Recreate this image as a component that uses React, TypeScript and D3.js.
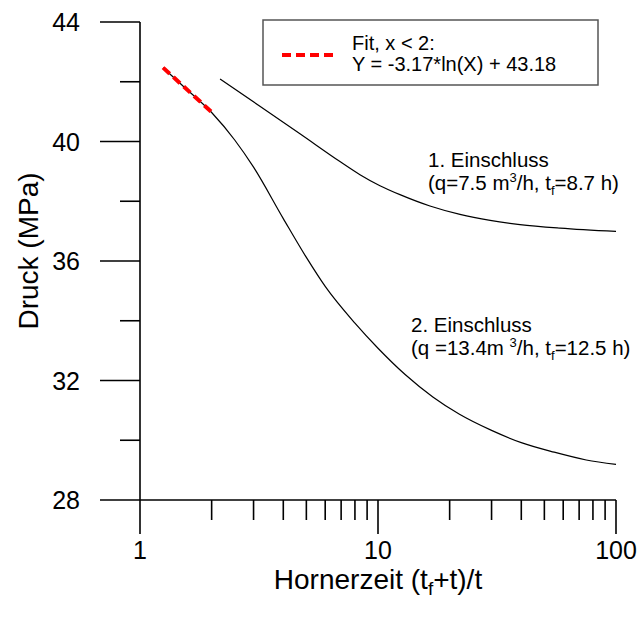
import React from "react";
import * as d3 from "d3";

const curve1X = [2.17, 3.19, 4.7, 6.92, 8.4, 10.19, 12.37, 16.53, 22.1, 29.6, 39.5, 58.2, 100];
const curve1Y = [42.09, 41.18, 40.26, 39.33, 38.89, 38.52, 38.22, 37.84, 37.56, 37.36, 37.22, 37.1, 36.99];

const curve2X = [1.25, 1.5, 2, 2.5, 3, 4, 5, 6, 8, 10, 13, 17, 22, 30, 40, 55, 75, 100];
const curve2Y = [42.47, 41.89, 40.97, 40.05, 39.14, 37.42, 36.12, 35.15, 33.92, 33.08, 32.2, 31.45, 30.87, 30.33, 29.92, 29.6, 29.34, 29.19];

const fitA = -3.17;
const fitB = 43.18;
const fitRange = [1.25, 2.0];

const yTicksMajor = [28, 32, 36, 40, 44];
const yTicksMinor = [30, 34, 38, 42];
const xTicksMajor = [1, 10, 100];
const xTicksMinor = [2, 3, 4, 5, 6, 7, 8, 9, 20, 30, 40, 50, 60, 70, 80, 90];

export default function App() {
  const W = 640;
  const H = 619;
  const x = d3.scaleLog().domain([1, 100]).range([140, 616]);
  const y = d3.scaleLinear().domain([28, 44]).range([500, 22]);
  const line = d3
    .line<[number, number]>()
    .x((d) => x(d[0]))
    .y((d) => y(d[1]))
    .curve(d3.curveMonotoneX);
  const c1 = curve1X.map((v, i) => [v, curve1Y[i]] as [number, number]);
  const c2 = curve2X.map((v, i) => [v, curve2Y[i]] as [number, number]);
  const fitPts: [number, number][] = fitRange.map((v) => [v, fitA * Math.log(v) + fitB]);
  const font = "Arial, 'Liberation Sans', sans-serif";

  return (
    <svg width={W} height={H} style={{ position: "absolute", left: 0, top: 0, background: "#fff" }} fontFamily={font}>
      <rect x={0} y={0} width={W} height={H} fill="#fff" />
      {/* axes */}
      <line x1={140} x2={140} y1={y(44)} y2={y(28)} stroke="#000" strokeWidth={1.6} />
      <line x1={140} x2={x(100)} y1={y(28)} y2={y(28)} stroke="#000" strokeWidth={1.6} />
      {yTicksMajor.map((t) => (
        <g key={"ym" + t}>
          <line x1={100} x2={140} y1={y(t)} y2={y(t)} stroke="#000" strokeWidth={1.6} />
          <text x={80} y={y(t) + 9} fontSize={25} textAnchor="end" fill="#000">{t}</text>
        </g>
      ))}
      {yTicksMinor.map((t) => (
        <line key={"yn" + t} x1={120} x2={140} y1={y(t)} y2={y(t)} stroke="#000" strokeWidth={1.6} />
      ))}
      {xTicksMajor.map((t) => (
        <g key={"xm" + t}>
          <line x1={x(t)} x2={x(t)} y1={500} y2={534} stroke="#000" strokeWidth={1.6} />
          <text x={x(t)} y={559} fontSize={25} textAnchor="middle" fill="#000">{t}</text>
        </g>
      ))}
      {xTicksMinor.map((t) => (
        <line key={"xn" + t} x1={x(t)} x2={x(t)} y1={500} y2={520} stroke="#000" strokeWidth={1.6} />
      ))}
      <text x={378} y={589} fontSize={28} textAnchor="middle" fill="#000">
        Hornerzeit (t<tspan fontSize={19} dy={6}>f</tspan><tspan dy={-6}>+t)/t</tspan>
      </text>
      <text transform={`translate(38,${251}) rotate(-90)`} fontSize={28} textAnchor="middle" fill="#000">
        Druck (MPa)
      </text>
      {/* curves */}
      <path d={line(c1) || ""} fill="none" stroke="#000" strokeWidth={1.2} />
      <path d={line(c2) || ""} fill="none" stroke="#000" strokeWidth={1.2} />
      <path d={line(fitPts) || ""} fill="none" stroke="#ff0000" strokeWidth={4} strokeDasharray="9 5" />
      {/* labels */}
      <text x={428} y={167} fontSize={20.5} fill="#000">1. Einschluss</text>
      <text x={428} y={190} fontSize={20.5} fill="#000">
        (q=7.5 m<tspan fontSize={13} dy={-8}>3</tspan><tspan dy={8}>/h, t</tspan><tspan fontSize={13} dy={5}>f</tspan><tspan dy={-5}>=8.7 h)</tspan>
      </text>
      <text x={411} y={332} fontSize={20.5} fill="#000">2. Einschluss</text>
      <text x={411} y={355} fontSize={20.5} fill="#000">
        (q =13.4m <tspan fontSize={13} dy={-8}>3</tspan><tspan dy={8}>/h, t</tspan><tspan fontSize={13} dy={5}>f</tspan><tspan dy={-5}>=12.5 h)</tspan>
      </text>
      {/* legend */}
      <rect x={263} y={20} width={335} height={65} fill="#fff" stroke="#555" strokeWidth={1.5} />
      <line x1={282} x2={338} y1={55} y2={55} stroke="#ff0000" strokeWidth={4} strokeDasharray="9 5" />
      <text x={352} y={50} fontSize={20} fill="#000">Fit,  x &lt; 2:</text>
      <text x={352} y={71} fontSize={20} fill="#000">Y = -3.17*ln(X) + 43.18</text>
    </svg>
  );
}
